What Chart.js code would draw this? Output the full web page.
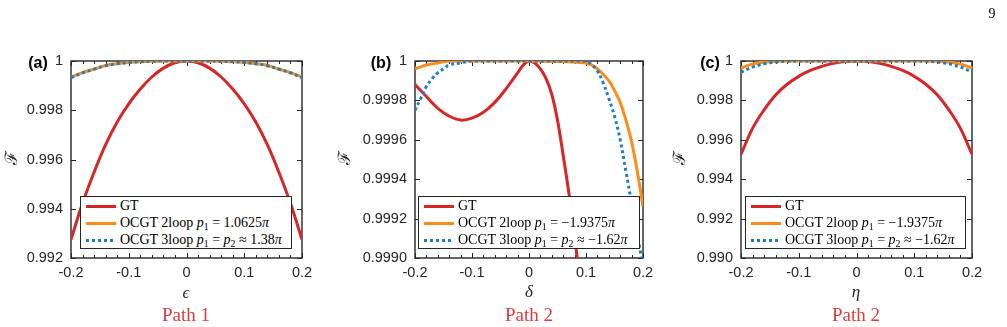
<!DOCTYPE html>
<html><head><meta charset="utf-8">
<script src="https://cdn.jsdelivr.net/npm/chart.js@4.4.0/dist/chart.umd.min.js"></script>
<style>
html,body{margin:0;padding:0;background:#fff;}
#wrap{position:relative;width:1007px;height:327px;overflow:hidden;background:#fff;}
canvas{position:absolute;top:0;}
.t{position:absolute;white-space:nowrap;transform:translate(-50%,-50%);line-height:1;}
.lab{font:bold 16px "Liberation Sans",Arial,sans-serif;color:#000;}
.ax{font:italic 17px "Liberation Serif","Times New Roman",serif;color:#262626;}
.path{font:19px "Liberation Serif","Times New Roman",serif;color:#dc3c3c;}
.fy{font:17px "DejaVu Serif",serif;color:#262626;transform:translate(-50%,-50%) rotate(-90deg);}
.pg{font:14px "Liberation Serif",serif;color:#000;}
.leg{position:absolute;background:#fff;border:1px solid #262626;box-sizing:border-box;font:14px "Liberation Serif","Times New Roman",serif;color:#000;padding-top:0.5px;}
.row{display:flex;align-items:center;height:17.2px;white-space:nowrap;}
.smp{width:30px;height:3px;margin:0 4px 0 5px;flex:none;}
sub{font-size:70%;vertical-align:-0.3em;line-height:0;}
</style></head>
<body><div id="wrap"></div>
<script>
// ---------- data ----------
const xTicks = [-0.2, -0.1, 0, 0.1, 0.2];
const xTickLabels = ['-0.2', '-0.1', '0', '0.1', '0.2'];
const xMinorTicks = [-0.18, -0.16, -0.14, -0.12, -0.08, -0.06, -0.04, -0.02, 0.02, 0.04, 0.06, 0.08, 0.12, 0.14, 0.16, 0.18];

const yTicksA = [0.992, 0.994, 0.996, 0.998, 1];
const yTickLabelsA = ['0.992', '0.994', '0.996', '0.998', '1'];
const yTicksB = [0.999, 0.9992, 0.9994, 0.9996, 0.9998, 1];
const yTickLabelsB = ['0.9990', '0.9992', '0.9994', '0.9996', '0.9998', '1'];
const yTicksC = [0.990, 0.992, 0.994, 0.996, 0.998, 1];
const yTickLabelsC = ['0.990', '0.992', '0.994', '0.996', '0.998', '1'];

// Panel (a) — Path 1, epsilon
const xA = [-0.2, -0.18, -0.16, -0.14, -0.12, -0.1, -0.08, -0.06, -0.04, -0.02, 0, 0.02, 0.04, 0.06, 0.08, 0.1, 0.12, 0.14, 0.16, 0.18, 0.2];
const gtA = [0.99275, 0.99422, 0.99548, 0.9966, 0.99752, 0.99826, 0.99886, 0.99935, 0.99971, 0.99993, 1.0, 0.99993, 0.99971, 0.99935, 0.99886, 0.99826, 0.99752, 0.9966, 0.99548, 0.99422, 0.99275];
const loop2A = [0.99934, 0.99953, 0.99967, 0.99982, 0.99989, 0.99994, 0.99997, 0.99999, 1.0, 1.0, 1.0, 1.0, 1.0, 0.99999, 0.99997, 0.99994, 0.99989, 0.99982, 0.99967, 0.99953, 0.99934];
const loop3A = [0.99932, 0.99952, 0.99967, 0.99981, 0.99989, 0.99994, 0.99997, 0.99999, 1.0, 1.0, 1.0, 1.0, 1.0, 0.99999, 0.99997, 0.99994, 0.99989, 0.99981, 0.99967, 0.99952, 0.99932];

// Panel (b) — Path 2, delta
const xGtB = [-0.2, -0.18, -0.16, -0.14, -0.12, -0.1, -0.08, -0.06, -0.04, -0.02, -0.01, 0, 0.01, 0.02, 0.03, 0.04, 0.05, 0.06, 0.07, 0.08, 0.09, 0.1, 0.12];
const gtB = [0.99988, 0.99982, 0.99976, 0.99972, 0.9997, 0.99971, 0.99974, 0.99979, 0.99986, 0.99994, 0.99998, 1.0, 0.99999, 0.99996, 0.99991, 0.99983, 0.9997, 0.99952, 0.99933, 0.99911, 0.99886, 0.99858, 0.9979];
const xLoop2B = [-0.2, -0.19, -0.18, -0.16, -0.14, -0.12, -0.1, 0, 0.1, 0.12, 0.14, 0.15, 0.16, 0.17, 0.18, 0.19, 0.2];
const loop2B = [0.99996, 0.99997, 0.99998, 0.99999, 1.0, 1.0, 1.0, 1.0, 0.99999, 0.99996, 0.9999, 0.99985, 0.99979, 0.9997, 0.99959, 0.99944, 0.99926];
const xLoop3B = [-0.2, -0.19, -0.18, -0.17, -0.16, -0.15, -0.14, -0.12, -0.1, 0, 0.1, 0.11, 0.12, 0.13, 0.14, 0.15, 0.16, 0.17, 0.18, 0.19, 0.2];
const loop3B = [0.99975, 0.99981, 0.99987, 0.99991, 0.99994, 0.99996, 0.99998, 0.99999, 1.0, 1.0, 1.0, 0.99998, 0.99995, 0.99989, 0.99981, 0.99972, 0.9996, 0.99944, 0.99928, 0.99912, 0.99896];

// Panel (c) — Path 2, eta
const xGtC = [-0.2, -0.18, -0.16, -0.14, -0.12, -0.1, -0.08, -0.06, -0.04, -0.02, 0, 0.02, 0.04, 0.06, 0.08, 0.1, 0.12, 0.14, 0.16, 0.18, 0.2];
const gtC = [0.99526, 0.99658, 0.99752, 0.99828, 0.99882, 0.99922, 0.99952, 0.99973, 0.99988, 0.99997, 1.0, 0.99997, 0.99988, 0.99973, 0.99952, 0.99922, 0.99882, 0.99828, 0.99752, 0.99658, 0.99526];
const xLoop2C = [-0.2, -0.19, -0.18, -0.17, -0.16, -0.14, -0.12, 0, 0.12, 0.14, 0.16, 0.17, 0.18, 0.19, 0.2];
const loop2C = [0.99963, 0.99975, 0.99984, 0.9999, 0.99994, 0.99998, 1.0, 1.0, 1.0, 0.99998, 0.99994, 0.9999, 0.99984, 0.99975, 0.99966];
const xLoop3C = [-0.2, -0.19, -0.18, -0.17, -0.16, -0.15, -0.14, -0.12, -0.1, 0, 0.1, 0.12, 0.14, 0.15, 0.16, 0.17, 0.18, 0.19, 0.2];
const loop3C = [0.99943, 0.99957, 0.99969, 0.99978, 0.99986, 0.99991, 0.99995, 0.99999, 1.0, 1.0, 1.0, 0.99999, 0.99995, 0.99991, 0.99986, 0.99978, 0.99969, 0.99957, 0.99942];

const seriesNames = ['GT', 'OCGT 2loop', 'OCGT 3loop'];
const legendParamsA = ['', '<i>p</i><sub>1</sub> = 1.0625<i>π</i>', '<i>p</i><sub>1</sub> = <i>p</i><sub>2</sub> ≈ 1.38<i>π</i>'];
const legendParamsBC = ['', '<i>p</i><sub>1</sub> = −1.9375<i>π</i>', '<i>p</i><sub>1</sub> = <i>p</i><sub>2</sub> ≈ −1.62<i>π</i>'];

// ---------- style ----------
const RED = '#d62728', ORANGE = '#ff8c1a', BLUE = '#1f7ec0', AXIS = '#262626';
const XH = 30;
const wrap = document.getElementById('wrap');

const framePlugin = {
  id: 'frame',
  beforeDatasetsDraw(chart, args, opts) {
    const ctx = chart.ctx, a = chart.chartArea, xs = chart.scales.x, ys = chart.scales.y;
    const yT = (opts && opts.yTicks) || [];
    ctx.save();
    ctx.strokeStyle = AXIS; ctx.lineWidth = 1.4;
    ctx.strokeRect(a.left, a.top, a.right - a.left, a.bottom - a.top);
    ctx.lineWidth = 1;
    ctx.beginPath();
    const tick = (v, len) => {
      const p = Math.round(xs.getPixelForValue(v)) + 0.5;
      ctx.moveTo(p, a.bottom); ctx.lineTo(p, a.bottom - len);
      ctx.moveTo(p, a.top); ctx.lineTo(p, a.top + len);
    };
    xTicks.forEach(v => tick(v, 5));
    xMinorTicks.forEach(v => tick(v, 3));
    yT.forEach(v => {
      const p = Math.round(ys.getPixelForValue(v)) + 0.5;
      ctx.moveTo(a.left, p); ctx.lineTo(a.left + 5, p);
      ctx.moveTo(a.right, p); ctx.lineTo(a.right - 5, p);
    });
    ctx.stroke();
    ctx.restore();
  }
};

function makePanel(canvasLeft, canvasWidth, area, yMin, yMax, yTicks, yLabels, series) {
  const cv = document.createElement('canvas');
  cv.width = canvasWidth; cv.height = 327;
  cv.style.left = canvasLeft + 'px';
  cv.style.width = canvasWidth + 'px'; cv.style.height = '327px';
  wrap.appendChild(cv);
  const yW = area.l - canvasLeft;
  const tickFont = { family: '"Liberation Sans", Arial, sans-serif', size: 14.5 };
  return new Chart(cv, {
    type: 'line',
    data: {
      datasets: series.map(s => ({
        data: s.x.map((x, i) => ({ x: x, y: s.y[i] })),
        borderColor: s.color, borderWidth: 3, borderDash: s.dash || [],
        borderCapStyle: 'butt', pointRadius: 0, fill: false,
        tension: 0.4, order: s.order
      }))
    },
    options: {
      responsive: false, animation: false, devicePixelRatio: 1, events: [],
      layout: { padding: { left: 0, right: canvasLeft + canvasWidth - area.r, top: area.t, bottom: 327 - area.b - XH } },
      plugins: { legend: { display: false }, tooltip: { enabled: false }, frame: { yTicks: yTicks } },
      scales: {
        x: {
          type: 'linear', min: -0.2, max: 0.2,
          afterBuildTicks: s => { s.ticks = xTicks.map(v => ({ value: v })); },
          afterFit: s => { s.height = XH; },
          grid: { display: false, drawTicks: false, tickLength: 0 },
          border: { display: false },
          ticks: { padding: 6, font: tickFont, color: AXIS, maxRotation: 0, autoSkip: false,
                   callback: (v, i) => xTickLabels[i] }
        },
        y: {
          type: 'linear', min: yMin, max: yMax,
          afterBuildTicks: s => { s.ticks = yTicks.map(v => ({ value: v })); },
          afterFit: s => { s.width = yW; },
          grid: { display: false, drawTicks: false, tickLength: 0 },
          border: { display: false },
          ticks: { padding: 8, font: tickFont, color: AXIS, autoSkip: false,
                   callback: (v, i) => yLabels[i] }
        }
      }
    },
    plugins: [framePlugin]
  });
}

function addText(cls, x, y, html) {
  const d = document.createElement('div');
  d.className = 't ' + cls; d.style.left = x + 'px'; d.style.top = y + 'px';
  d.innerHTML = html; wrap.appendChild(d);
}

function addLegend(left, top, width, params) {
  const box = document.createElement('div');
  box.className = 'leg';
  box.style.left = left + 'px'; box.style.top = top + 'px';
  box.style.width = width + 'px'; box.style.height = '53px';
  const samples = [
    'background:' + RED,
    'background:' + ORANGE,
    'background:repeating-linear-gradient(90deg,' + BLUE + ' 0 3px, transparent 3px 6px)'
  ];
  seriesNames.forEach((n, i) => {
    const r = document.createElement('div'); r.className = 'row';
    r.innerHTML = '<span class="smp" style="' + samples[i] + '"></span><span>' + n + (params[i] ? ' ' + params[i] : '') + '</span>';
    box.appendChild(r);
  });
  wrap.appendChild(box);
}

// ---------- panels ----------
makePanel(0, 330, { l: 71, r: 302, t: 61, b: 258 }, 0.992, 1, yTicksA, yTickLabelsA, [
  { x: xA, y: gtA, color: RED, order: 3 },
  { x: xA, y: loop2A, color: ORANGE, order: 2 },
  { x: xA, y: loop3A, color: BLUE, dash: [3, 3], order: 1 }
]);
makePanel(330, 340, { l: 415, r: 643, t: 61, b: 258 }, 0.999, 1, yTicksB, yTickLabelsB, [
  { x: xGtB, y: gtB, color: RED, order: 3 },
  { x: xLoop2B, y: loop2B, color: ORANGE, order: 2 },
  { x: xLoop3B, y: loop3B, color: BLUE, dash: [3, 3], order: 1 }
]);
makePanel(670, 337, { l: 741, r: 972, t: 61, b: 258 }, 0.99, 1, yTicksC, yTickLabelsC, [
  { x: xGtC, y: gtC, color: RED, order: 3 },
  { x: xLoop2C, y: loop2C, color: ORANGE, order: 2 },
  { x: xLoop3C, y: loop3C, color: BLUE, dash: [3, 3], order: 1 }
]);

addLegend(80, 196, 212, legendParamsA);
addLegend(418, 196, 222, legendParamsBC);
addLegend(745, 196, 221, legendParamsBC);

addText('lab', 38, 63, '(a)');
addText('lab', 381, 63, '(b)');
addText('lab', 710, 63, '(c)');
addText('fy', 10, 158, 'ℱ');
addText('fy', 343, 158, 'ℱ');
addText('fy', 678, 158, 'ℱ');
addText('ax', 186, 293, 'ϵ');
addText('ax', 529, 292, 'δ');
addText('ax', 856, 292, 'η');
addText('path', 186, 315, 'Path 1');
addText('path', 529, 315, 'Path 2');
addText('path', 856, 315, 'Path 2');
addText('pg', 992, 14, '9');
</script>
</body></html>
